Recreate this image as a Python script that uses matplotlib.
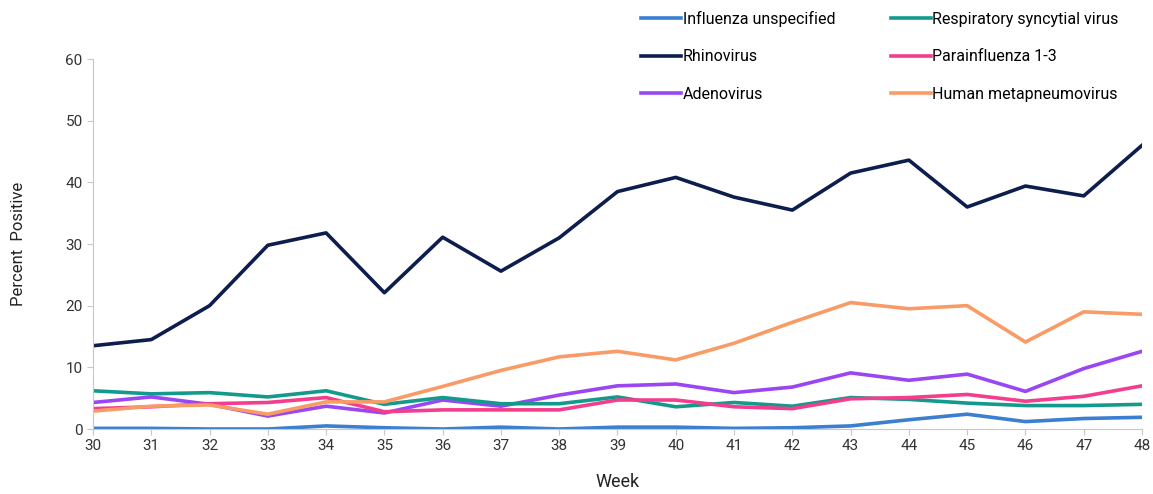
import matplotlib
matplotlib.use("Agg")
import matplotlib.pyplot as plt

plt.rcParams['font.family'] = ['Roboto', 'DejaVu Sans']

weeks = list(range(30, 49))

influenza = [0.1, 0.1, 0.0, 0.0, 0.5, 0.2, 0.0, 0.3, 0.0, 0.3,
             0.3, 0.1, 0.2, 0.5, 1.5, 2.4, 1.2, 1.7, 1.9]
rsv = [6.2, 5.7, 5.9, 5.2, 6.2, 4.0, 5.1, 4.1, 4.1, 5.2,
       3.6, 4.3, 3.7, 5.1, 4.8, 4.2, 3.8, 3.8, 4.0]
rhino = [13.5, 14.5, 20.0, 29.8, 31.8, 22.1, 31.1, 25.6, 31.0, 38.5,
         40.8, 37.6, 35.5, 41.5, 43.6, 36.0, 39.4, 37.8, 46.0]
para = [3.3, 3.6, 4.1, 4.3, 5.1, 2.8, 3.1, 3.1, 3.1, 4.7,
        4.7, 3.6, 3.3, 4.9, 5.1, 5.6, 4.5, 5.3, 7.0]
adeno = [4.3, 5.2, 4.0, 2.1, 3.7, 2.6, 4.7, 3.7, 5.5, 7.0,
         7.3, 5.9, 6.8, 9.1, 7.9, 8.9, 6.1, 9.8, 12.6]
hmpv = [2.9, 3.7, 3.9, 2.4, 4.4, 4.4, 6.9, 9.5, 11.7, 12.6,
        11.2, 13.9, 17.3, 20.5, 19.5, 20.0, 14.1, 19.0, 18.6]

labels = ['Influenza unspecified', 'Rhinovirus', 'Adenovirus',
          'Respiratory syncytial virus', 'Parainfluenza 1-3', 'Human metapneumovirus']
series = [influenza, rhino, adeno, rsv, para, hmpv]
colors = ['#3a7fd0', '#0d1e4e', '#9a46f2', '#139a8c', '#f33d8d', '#f99b66']

fig = plt.figure(figsize=(11.53, 4.94), dpi=100)
ax = fig.add_axes([93 / 1153, 1 - 429 / 494, (1142 - 93) / 1153, (429 - 59) / 494])

handles = []
for vals, lab, col in zip(series, labels, colors):
    h, = ax.plot(weeks, vals, color=col, lw=2.6, label=lab)
    handles.append(h)

ax.set_xlim(30, 48)
ax.set_ylim(0, 60)
ax.set_xticks(weeks)
ax.set_yticks(range(0, 61, 10))
for s in ['top', 'right']:
    ax.spines[s].set_visible(False)
for s in ['left', 'bottom']:
    ax.spines[s].set_color('#c8c8c8')
ax.tick_params(colors='#c8c8c8', labelcolor='#333333', labelsize=11, length=4)
ax.set_xlabel('Week', fontsize=13, color='#222222', labelpad=14)
ax.set_ylabel('Percent  Positive', fontsize=12, color='#222222', labelpad=28)

fig.legend(handles=handles, loc='upper left', bbox_to_anchor=(633 / 1153, 1 - 3 / 494),
           ncol=2, frameon=False, fontsize=11.5, handlelength=2.5, handletextpad=0.1,
           labelspacing=1.4, columnspacing=3.5, borderpad=0)

plt.savefig('out.png', dpi=100)
